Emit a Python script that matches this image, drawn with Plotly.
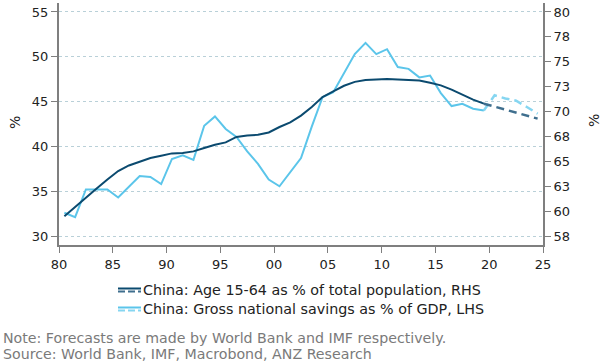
import plotly.graph_objects as go

# ---- data ----
years = [1980.5 + i for i in range(40)]  # 1980.5 .. 2019.5 (mid-year)
age_share_rhs = [59.48, 60.43, 61.37, 62.27, 63.17, 64.03, 64.59, 65.0, 65.33, 65.56,
                 65.8, 65.83, 66.0, 66.34, 66.67, 66.9, 67.45, 67.6, 67.67, 67.9,
                 68.45, 68.91, 69.59, 70.46, 71.45, 72.03, 72.59, 72.98, 73.16, 73.23,
                 73.27, 73.23, 73.2, 73.12, 72.89, 72.63, 72.2, 71.69, 71.19, 70.79]
savings_lhs = [32.6, 32.1, 35.2, 35.2, 35.2, 34.3, 35.5, 36.7, 36.6, 35.8,
               38.6, 39.0, 38.5, 42.3, 43.35, 41.95, 41.05, 39.45, 38.05, 36.3,
               35.55, 37.1, 38.7, 42.2, 45.5, 46.05, 48.2, 50.3, 51.55, 50.3,
               50.85, 48.85, 48.65, 47.7, 47.9, 45.95, 44.5, 44.75, 44.2, 44.0]
fc_years = [2019.5, 2020.5, 2021.5, 2022.5, 2023.5, 2024.5]
age_share_fc = [70.79, 70.5, 70.19, 69.9, 69.6, 69.29]
savings_fc = [44.0, 45.7, 45.35, 45.1, 44.4, 43.65]

x_ticks = [1980, 1985, 1990, 1995, 2000, 2005, 2010, 2015, 2020, 2025]
x_labels = ["80", "85", "90", "95", "00", "05", "10", "15", "20", "25"]
left_ticks = [30, 35, 40, 45, 50, 55]
right_ticks = [57.5, 60, 62.5, 65, 67.5, 70, 72.5, 75, 77.5, 80]
right_labels = ["58", "60", "63", "65", "68", "70", "73", "75", "78", "80"]
series_names = ["China: Age 15-64 as % of total population, RHS",
                "China: Gross national savings as % of GDP, LHS"]

NAVY = "#0b4a6f"
NAVY_FC = "#3f6f8e"
LIGHT = "#5bc5ea"
LIGHT_FC = "#86d6f1"
FONT = "DejaVu Sans"

fig = go.Figure()
fig.add_trace(go.Scatter(x=years, y=age_share_rhs, yaxis="y2", mode="lines",
                         line=dict(color=NAVY, width=2), name=series_names[0]))
fig.add_trace(go.Scatter(x=fc_years, y=age_share_fc, yaxis="y2", mode="lines",
                         line=dict(color=NAVY_FC, width=2.5, dash="8px,5px"),
                         name=series_names[0] + " (forecast)"))
fig.add_trace(go.Scatter(x=years, y=savings_lhs, mode="lines",
                         line=dict(color=LIGHT, width=2), name=series_names[1]))
fig.add_trace(go.Scatter(x=fc_years, y=savings_fc, mode="lines",
                         line=dict(color=LIGHT_FC, width=2.5, dash="8px,5px"),
                         name=series_names[1] + " (forecast)"))

axis_common = dict(showline=True, linecolor="#7f7f7f", linewidth=2,
                   ticks="outside", ticklen=6, tickcolor="#7f7f7f", automargin=False,
                   tickfont=dict(family=FONT, size=13, color="#222"), zeroline=False)

fig.update_layout(
    width=603, height=364,
    margin=dict(l=59, r=60, t=3, b=119),
    paper_bgcolor="white", plot_bgcolor="white",
    font=dict(family=FONT, size=13, color="#222"),
    xaxis=dict(range=[1980, 2025], tickvals=x_ticks, ticktext=x_labels,
               showgrid=False, **axis_common),
    yaxis=dict(range=[29, 56], tickvals=left_ticks, showgrid=True,
               gridcolor="#b9d0d8", griddash="dot", gridwidth=1, **axis_common),
    yaxis2=dict(range=[56.6, 80.9], tickvals=right_ticks, ticktext=right_labels,
                overlaying="y", side="right", showgrid=False, **axis_common),
    showlegend=False,
)

# pixel -> paper helpers (plot area x 59..543, y 3..245)
def px(xp):
    return (xp - 59) / 484.0

def py(yp):
    return (245 - yp) / 242.0

# axis titles
fig.add_annotation(xref="paper", yref="paper", x=px(15), y=py(123), text="%",
                   textangle=-90, showarrow=False, xanchor="center", yanchor="middle",
                   font=dict(family=FONT, size=14, color="#222"))
fig.add_annotation(xref="paper", yref="paper", x=px(594), y=py(121), text="%",
                   textangle=-90, showarrow=False, xanchor="center", yanchor="middle",
                   font=dict(family=FONT, size=14, color="#222"))

# custom legend
legend_rows = [(NAVY, NAVY_FC, 288.5, 290, series_names[0]),
               (LIGHT, LIGHT_FC, 307.5, 309, series_names[1])]
for solid_c, dash_c, ly, ty, label in legend_rows:
    fig.add_shape(type="line", xref="paper", yref="paper",
                  x0=px(118), x1=px(141), y0=py(ly), y1=py(ly),
                  line=dict(color=solid_c, width=2))
    fig.add_shape(type="line", xref="paper", yref="paper",
                  x0=px(118), x1=px(141), y0=py(ly + 3), y1=py(ly + 3),
                  line=dict(color=dash_c, width=2, dash="7px,3px"))
    fig.add_annotation(xref="paper", yref="paper", x=px(140.5), y=py(ty), text=label,
                       showarrow=False, xanchor="left", yanchor="middle",
                       font=dict(family=FONT, size=14.3, color="#222"))

notes = ["Note: Forecasts are made by World Bank and IMF respectively.",
         "Source: World Bank, IMF, Macrobond, ANZ Research"]
for txt, ty in zip(notes, [338, 353.5]):
    fig.add_annotation(xref="paper", yref="paper", x=px(1), y=py(ty), text=txt,
                       showarrow=False, xanchor="left", yanchor="middle", align="left",
                       font=dict(family=FONT, size=14.2, color="#7a7a7a"))

fig.write_html("out.html", config={"displayModeBar": False},
               post_script="document.body.style.margin='0';document.body.style.overflow='hidden';")
